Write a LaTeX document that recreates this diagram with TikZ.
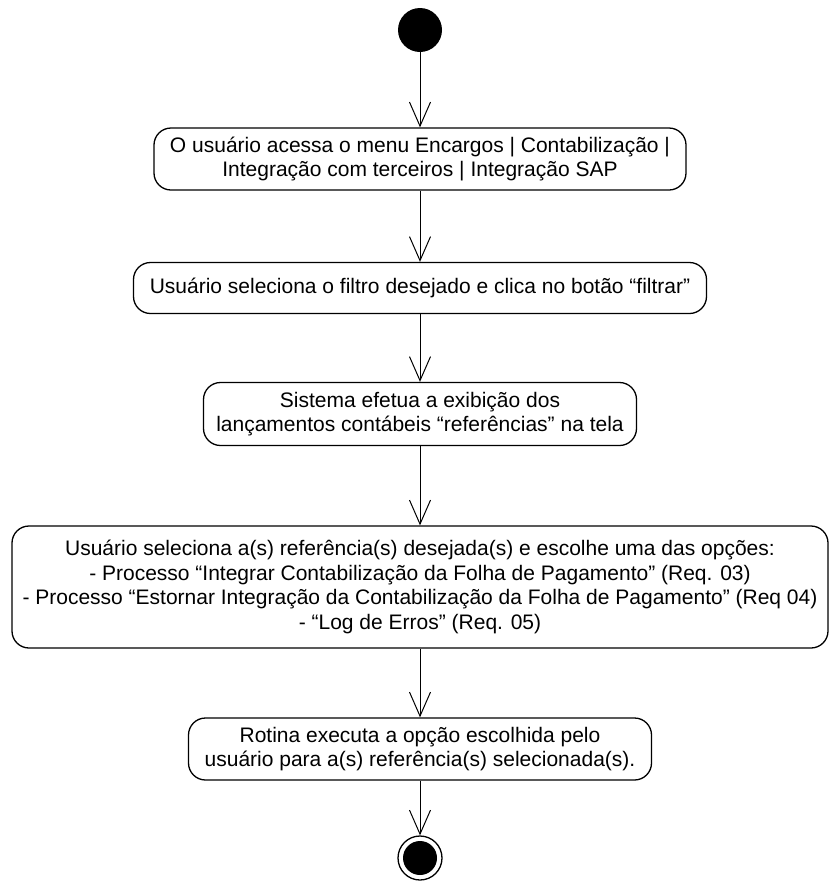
\documentclass[tikz,border=0pt]{standalone}
\usepackage{fontspec}
\setmainfont{Liberation Sans}
\usetikzlibrary{arrows.meta}
\tikzset{
    acao/.style={draw, rounded corners=17pt, line width=1.3pt, align=center,
        inner sep=0pt, font=\fontsize{21}{24.5}\selectfont},
    fluxo/.style={-{Straight Barb[length=24pt,width=21pt]}, line width=1pt},
}
\newcommand\Acao[5]{%
    \node[acao, minimum width=#3pt, minimum height=#4pt] (#1) at (420,#2) {#5};
}

\begin{document}
\begin{tikzpicture}[x=1pt,y=-1pt]
    \useasboundingbox (0,0) rectangle (832,887);
    \node[circle, fill, minimum size=44pt, inner sep=0pt] (inicio) at (420,30) {};
    \Acao{menu}{159}{532}{62}{O usuário acessa o menu Encargos | Contabilização |\\
        Integração com terceiros | Integração SAP}
    \Acao{filtro}{288}{573}{51}{Usuário seleciona o filtro desejado e clica no botão “filtrar”}
    \Acao{exibe}{414}{433}{63}{Sistema efetua a exibição dos\\
        lançamentos contábeis “referências” na tela}
    \Acao{opcoes}{587}{816}{122}{Usuário seleciona a(s) referência(s) desejada(s) e escolhe uma das opções:\\
        - Processo “Integrar Contabilização da Folha de Pagamento” (Req. 03)\\
        - Processo “Estornar Integração da Contabilização da Folha de Pagamento” (Req 04)\\
        - “Log de Erros” (Req. 05)}
    \Acao{rotina}{749}{463}{62}{Rotina executa a opção escolhida pelo\\
        usuário para a(s) referência(s) selecionada(s).}
    \node[circle, draw, line width=1.3pt, minimum size=44pt, inner sep=0pt] (fim) at (420,858) {};
    \node[circle, fill, minimum size=34pt, inner sep=0pt] (fimdot) at (fim) {};
    % fluxo
    \draw[fluxo] (inicio) -- (menu);
    \draw[fluxo] (menu) -- (filtro);
    \draw[fluxo] (filtro) -- (exibe);
    \draw[fluxo] (exibe) -- (opcoes);
    \draw[fluxo] (opcoes) -- (rotina);
    \draw[fluxo] (rotina) -- (fim);
\end{tikzpicture}
\end{document}
